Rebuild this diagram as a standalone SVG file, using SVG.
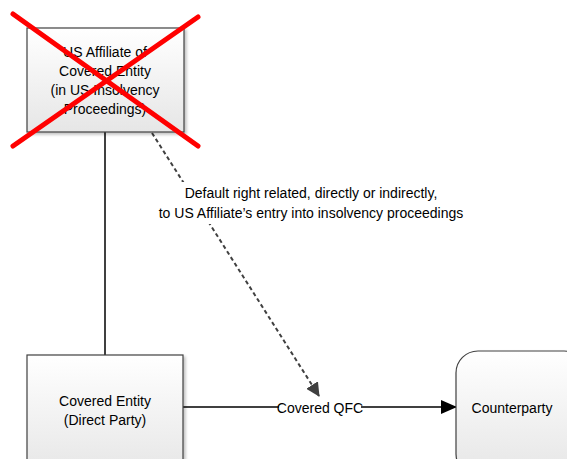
<svg xmlns="http://www.w3.org/2000/svg" width="567" height="459" viewBox="0 0 567 459">
<defs>
<linearGradient id="g" x1="0" y1="0" x2="0" y2="1">
<stop offset="0" stop-color="#ffffff"/>
<stop offset="1" stop-color="#e6e6e6"/>
</linearGradient>
<filter id="sh" x="-10%" y="-10%" width="130%" height="130%">
<feGaussianBlur in="SourceAlpha" stdDeviation="1.5"/>
<feOffset dx="2" dy="2" result="b"/>
<feComponentTransfer><feFuncA type="linear" slope="0.25"/></feComponentTransfer>
<feMerge><feMergeNode/><feMergeNode in="SourceGraphic"/></feMerge>
</filter>
<marker id="ah" markerWidth="16" markerHeight="16" refX="15" refY="8" orient="auto" markerUnits="userSpaceOnUse">
<path d="M0,1 L16,8 L0,15 Z" fill="#000"/>
</marker>
<marker id="ahd" markerWidth="14" markerHeight="14" refX="13" refY="7" orient="auto" markerUnits="userSpaceOnUse">
<path d="M0,0 L14,7 L0,14 Z" fill="#404040"/>
</marker>
</defs>
<style>
.box{fill:url(#g);stroke:#404040;stroke-width:1.2;filter:url(#sh)}
.t{font-family:"Liberation Sans",Arial,sans-serif;font-size:14px;fill:#000;text-anchor:middle}
.ln{stroke:#000;stroke-width:1.5;fill:none}
</style>
<g id="connectors">
<line class="ln" x1="105" y1="132" x2="105" y2="355"/>
<line class="ln" x1="183" y1="407" x2="456" y2="407" marker-end="url(#ah)"/>
<line x1="152" y1="133" x2="319" y2="396" stroke="#404040" stroke-width="2" stroke-dasharray="4,3" marker-end="url(#ahd)"/>
<rect x="160" y="182" width="308" height="42" fill="#fff"/>
<text class="t" x="311" y="198">Default right related, directly or indirectly,</text>
<text class="t" x="311" y="218">to US Affiliate’s entry into insolvency proceedings</text>
<rect x="279" y="399" width="82" height="18" fill="#fff"/>
<text class="t" x="320" y="413">Covered QFC</text>
</g>
<g id="us-affiliate">
<rect class="box" x="27" y="28" width="157" height="104"/>
<text class="t" x="105" y="57">US Affiliate of</text>
<text class="t" x="105" y="76">Covered Entity</text>
<text class="t" x="105" y="95">(in US Insolvency</text>
<text class="t" x="105" y="114">Proceedings)</text>
</g>
<g id="red-x">
<line x1="13" y1="14" x2="198" y2="146" stroke="#ff0000" stroke-width="5" stroke-linecap="round"/>
<line x1="198" y1="17" x2="13" y2="146" stroke="#ff0000" stroke-width="5" stroke-linecap="round"/>
</g>
<g id="covered-entity">
<rect class="box" x="27" y="355" width="156" height="120"/>
<text class="t" x="105" y="406">Covered Entity</text>
<text class="t" x="105" y="425">(Direct Party)</text>
</g>
<g id="counterparty">
<rect class="box" x="456" y="351" width="130" height="125" rx="22" ry="22"/>
<text class="t" x="512" y="413">Counterparty</text>
</g>
</svg>
